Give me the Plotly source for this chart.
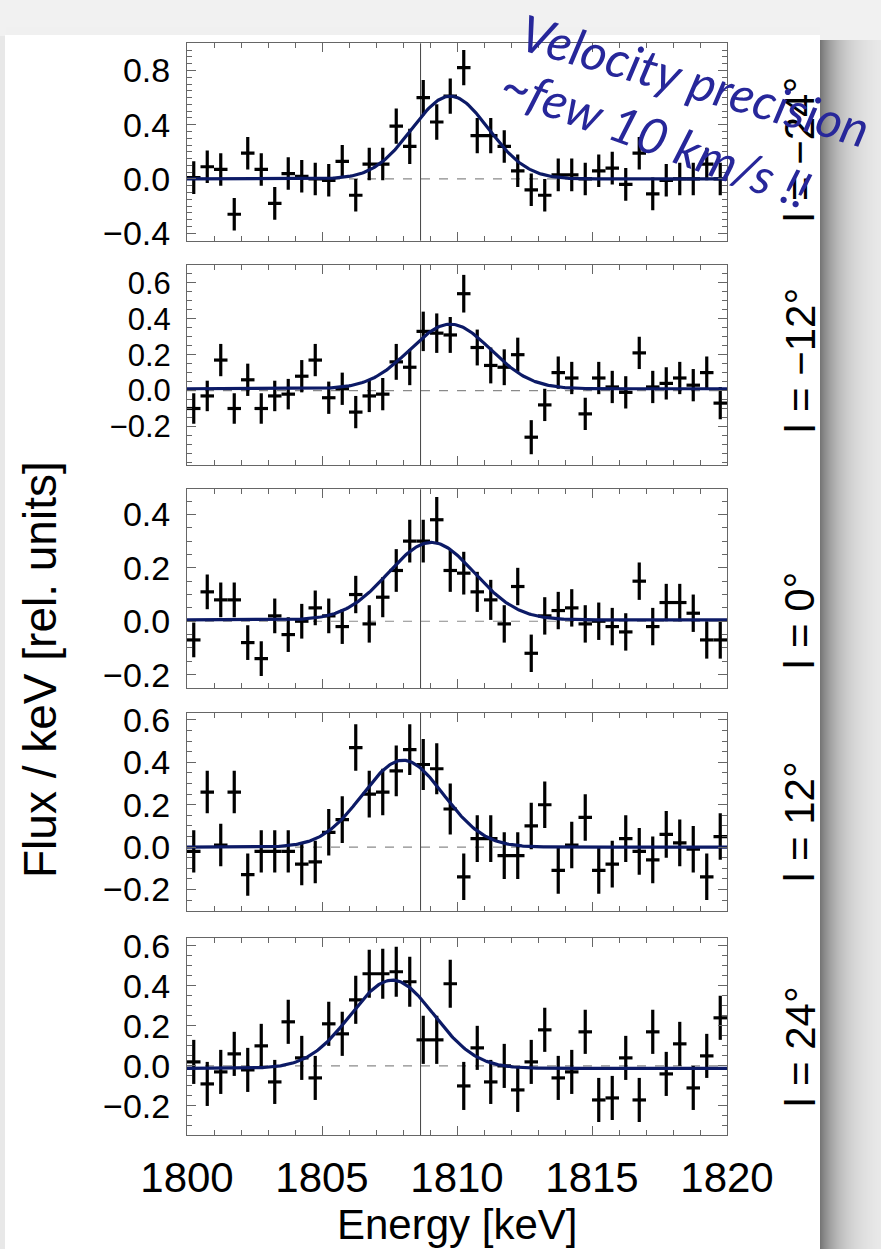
import numpy as np
import plotly.graph_objects as go

W, H = 881, 1249

# ---------------- data ----------------
energy = [1800.25, 1800.75, 1801.25, 1801.75, 1802.25, 1802.75, 1803.25, 1803.75,
          1804.25, 1804.75, 1805.25, 1805.75, 1806.25, 1806.75, 1807.25, 1807.75,
          1808.25, 1808.75, 1809.25, 1809.75, 1810.25, 1810.75, 1811.25, 1811.75,
          1812.25, 1812.75, 1813.25, 1813.75, 1814.25, 1814.75, 1815.25, 1815.75,
          1816.25, 1816.75, 1817.25, 1817.75, 1818.25, 1818.75, 1819.25, 1819.75]
bin_halfwidth = [0.25] * 40

panel_labels = ["l = \u221224\u00b0", "l = \u221212\u00b0", "l = 0\u00b0", "l = 12\u00b0", "l = 24\u00b0"]

flux_m24 = [0.01, 0.09, 0.07, -0.26, 0.19, 0.07, -0.18, 0.04, 0.02, 0.00,
            -0.01, 0.13, -0.12, 0.11, 0.11, 0.39, 0.24, 0.60, 0.42, 0.61,
            0.82, 0.32, 0.32, 0.24, 0.06, -0.08, -0.12, 0.03, 0.03, 0.00,
            0.06, 0.08, -0.04, 0.19, -0.11, -0.01, 0.00, 0.00, 0.11, 0.00]
err_m24 = [0.12, 0.12, 0.12, 0.12, 0.12, 0.12, 0.12, 0.12, 0.12, 0.12,
           0.12, 0.12, 0.12, 0.12, 0.12, 0.13, 0.13, 0.13, 0.13, 0.13,
           0.13, 0.13, 0.13, 0.12, 0.12, 0.12, 0.12, 0.12, 0.12, 0.12,
           0.12, 0.12, 0.12, 0.12, 0.12, 0.12, 0.12, 0.12, 0.12, 0.12]

flux_m12 = [-0.10, -0.03, 0.17, -0.10, 0.06, -0.10, -0.03, -0.02, 0.08, 0.17,
            -0.04, 0.01, -0.12, -0.03, -0.02, 0.16, 0.13, 0.33, 0.32, 0.31,
            0.54, 0.24, 0.14, 0.13, 0.20, -0.26, -0.08, 0.10, 0.07, -0.13,
            0.07, 0.02, -0.01, 0.21, 0.02, 0.04, 0.07, 0.03, 0.10, -0.07]
err_m12 = [0.085, 0.085, 0.09, 0.085, 0.09, 0.085, 0.085, 0.085, 0.09, 0.09,
           0.09, 0.09, 0.09, 0.09, 0.09, 0.10, 0.10, 0.11, 0.11, 0.10,
           0.105, 0.10, 0.10, 0.10, 0.095, 0.095, 0.09, 0.09, 0.09, 0.09,
           0.09, 0.09, 0.09, 0.09, 0.09, 0.09, 0.09, 0.09, 0.09, 0.09]

flux_0 = [-0.07, 0.11, 0.08, 0.08, -0.08, -0.14, 0.02, -0.05, 0.00, 0.05,
          0.02, -0.02, 0.10, -0.01, 0.09, 0.19, 0.30, 0.30, 0.38, 0.19,
          0.18, 0.11, 0.08, -0.01, 0.13, -0.12, 0.02, 0.04, 0.05, -0.01,
          0.00, -0.02, -0.04, 0.15, -0.02, 0.07, 0.07, 0.03, -0.07, -0.07]
err_0 = [0.065, 0.065, 0.065, 0.065, 0.065, 0.065, 0.065, 0.065, 0.065, 0.065,
         0.065, 0.065, 0.07, 0.07, 0.075, 0.08, 0.08, 0.08, 0.085, 0.08,
         0.08, 0.075, 0.075, 0.07, 0.07, 0.07, 0.07, 0.07, 0.07, 0.07,
         0.07, 0.07, 0.07, 0.07, 0.07, 0.07, 0.07, 0.07, 0.07, 0.07]

flux_p12 = [-0.02, 0.26, 0.01, 0.26, -0.13, -0.02, -0.02, -0.02, -0.08, -0.07,
            0.07, 0.13, 0.47, 0.25, 0.26, 0.36, 0.46, 0.39, 0.37, 0.18,
            -0.14, 0.04, 0.04, -0.04, -0.04, 0.10, 0.20, -0.11, 0.01, 0.14,
            -0.11, -0.08, 0.04, -0.02, -0.06, 0.06, 0.02, -0.01, -0.14, 0.05]
err_p12 = [0.10, 0.10, 0.10, 0.10, 0.10, 0.10, 0.10, 0.10, 0.10, 0.10,
           0.11, 0.11, 0.11, 0.11, 0.11, 0.12, 0.12, 0.12, 0.12, 0.12,
           0.11, 0.11, 0.11, 0.11, 0.11, 0.11, 0.11, 0.11, 0.11, 0.11,
           0.11, 0.11, 0.11, 0.11, 0.11, 0.11, 0.11, 0.11, 0.11, 0.11]

flux_p24 = [0.02, -0.09, -0.03, 0.06, -0.02, 0.10, -0.08, 0.22, 0.04, -0.06,
            0.21, 0.16, 0.33, 0.46, 0.46, 0.47, 0.42, 0.13, 0.13, 0.41,
            -0.10, 0.09, -0.08, 0.00, -0.12, 0.02, 0.18, -0.06, -0.03, 0.17,
            -0.17, -0.16, 0.04, -0.17, 0.17, -0.04, 0.11, -0.11, 0.05, 0.24]
err_p24 = [0.11, 0.11, 0.11, 0.11, 0.11, 0.11, 0.11, 0.11, 0.11, 0.11,
           0.11, 0.11, 0.12, 0.12, 0.125, 0.125, 0.125, 0.12, 0.12, 0.12,
           0.12, 0.11, 0.11, 0.11, 0.11, 0.11, 0.11, 0.11, 0.11, 0.11,
           0.11, 0.11, 0.11, 0.11, 0.11, 0.11, 0.11, 0.11, 0.11, 0.11]

# Gaussian line-fit parameters
fit_centre = [1809.75, 1809.75, 1809.05, 1808.00, 1807.60]
fit_amplitude = [0.61, 0.36, 0.29, 0.41, 0.44]
fit_sigma = [1.42, 1.50, 1.60, 1.50, 1.55]
fit_offset = [0.0, 0.01, 0.005, 0.0, -0.012]

rest_energy = 1808.65

y_ranges = [[-0.455, 1.0], [-0.415, 0.70], [-0.25, 0.494], [-0.30, 0.633], [-0.345, 0.64]]
y_tickvals = [[-0.4, 0.0, 0.4, 0.8], [-0.2, 0.0, 0.2, 0.4, 0.6], [-0.2, 0.0, 0.2, 0.4],
              [-0.2, 0.0, 0.2, 0.4, 0.6], [-0.2, 0.0, 0.2, 0.4, 0.6]]
x_tickvals = [1800, 1805, 1810, 1815, 1820]

fluxes = [flux_m24, flux_m12, flux_0, flux_p12, flux_p24]
errors = [err_m24, err_m12, err_0, err_p12, err_p24]

# ---------------- layout geometry (pixels) ----------------
x_left, x_right = 187, 727
panel_px = [(43.3, 240.7), (265, 465), (489.3, 688), (713, 910.7), (937.7, 1135)]
label_centre_px = [150, 361, 621, 822, 1047]
ytick_size = [34, 31, 34, 34, 34]

def fx(px):
    return px / W

def fy(py):
    return 1 - py / H

FONT = "Liberation Sans, Arial, Helvetica, sans-serif"
fit_colour = "#0c1a66"

fig = go.Figure()
layout = dict(
    width=W, height=H,
    margin=dict(l=0, r=0, t=0, b=0),
    paper_bgcolor="#f1f1f1",
    plot_bgcolor="rgba(0,0,0,0)",
    showlegend=False,
    font=dict(family=FONT, size=42, color="black"),
)

xgrid = np.linspace(1800, 1820, 401)
shapes = []

# card + soft drop shadow (decoration)
shapes.append(dict(type="rect", xref="paper", yref="paper", layer="below",
                   x0=fx(0), x1=fx(6), y0=fy(H), y1=fy(36), line=dict(width=0),
                   fillcolor="#e8e8e8"))
for k in range(61):
    t = k / 60.0
    g = int(round(242 - (242 - 118) * np.exp(-t * 2.6)))
    shapes.append(dict(type="rect", xref="paper", yref="paper", layer="below",
                       x0=fx(820 + k), x1=fx(821.2 + k), y0=fy(H), y1=fy(40),
                       line=dict(width=0), fillcolor=f"rgb({g},{g},{g})"))
for k in range(8):
    g = int(round(226 + 2 * k))
    shapes.append(dict(type="rect", xref="paper", yref="paper", layer="below",
                       x0=fx(6), x1=fx(820), y0=fy(35), y1=fy(34 - k),
                       line=dict(width=0), fillcolor=f"rgb({g},{g},{g})"))
shapes.append(dict(type="rect", xref="paper", yref="paper", layer="below",
                   x0=fx(5), x1=fx(820), y0=fy(H), y1=fy(35), line=dict(width=0),
                   fillcolor="white"))

annotations = []
for p in range(5):
    n = p + 1
    xa = "x" if n == 1 else f"x{n}"
    ya = "y" if n == 1 else f"y{n}"
    xkey = "xaxis" if n == 1 else f"xaxis{n}"
    ykey = "yaxis" if n == 1 else f"yaxis{n}"
    top, bot = panel_px[p]

    fig.add_trace(go.Scatter(
        x=energy, y=fluxes[p], xaxis=xa, yaxis=ya, mode="markers",
        marker=dict(size=0.1, color="black", opacity=0),
        error_x=dict(type="data", array=bin_halfwidth, width=0, thickness=3.2, color="black"),
        error_y=dict(type="data", array=errors[p], width=0, thickness=3.2, color="black"),
        hoverinfo="skip"))

    model = fit_offset[p] + fit_amplitude[p] * np.exp(-0.5 * ((xgrid - fit_centre[p]) / fit_sigma[p]) ** 2)
    fig.add_trace(go.Scatter(x=xgrid, y=model, xaxis=xa, yaxis=ya, mode="lines",
                             line=dict(color=fit_colour, width=3.2), hoverinfo="skip"))

    shapes.append(dict(type="line", xref=f"{xa} domain", yref=ya, x0=0, x1=1, y0=0, y1=0,
                       line=dict(color="#8a8a8a", width=1.2, dash="dash"), layer="below"))
    shapes.append(dict(type="line", xref=xa, yref=f"{ya} domain", x0=rest_energy, x1=rest_energy,
                       y0=0, y1=1, line=dict(color="#444444", width=1), layer="below"))

    layout[xkey] = dict(
        domain=[fx(x_left), fx(x_right)], anchor=ya, range=[1800, 1820],
        showline=True, linecolor="#666666", linewidth=1, mirror="allticks",
        ticks="inside", ticklen=9, tickwidth=1, tickcolor="#666666",
        tickmode="array", tickvals=x_tickvals, ticktext=[str(v) for v in x_tickvals],
        minor=dict(ticks="inside", ticklen=5, tickmode="linear", tick0=1800, dtick=1,
                   tickcolor="#666666", tickwidth=1),
        showticklabels=(p == 4), showgrid=False, zeroline=False, automargin=False,
        tickfont=dict(family=FONT, size=42, color="black"), ticklabelstandoff=6,
    )
    layout[ykey] = dict(
        domain=[fy(bot), fy(top)], anchor=xa, range=y_ranges[p],
        showline=True, linecolor="#666666", linewidth=1, mirror="allticks",
        ticks="inside", ticklen=9, tickwidth=1, tickcolor="#666666",
        tickmode="array", tickvals=y_tickvals[p],
        ticktext=[("\u2212" if v < 0 else "") + f"{abs(v):.1f}" for v in y_tickvals[p]],
        minor=dict(ticks="inside", ticklen=5, tickmode="linear", tick0=0, dtick=0.05,
                   tickcolor="#666666", tickwidth=1),
        showgrid=False, zeroline=False, automargin=False,
        tickfont=dict(family=FONT, size=ytick_size[p], color="black"), ticklabelstandoff=9,
    )

    annotations.append(dict(text=panel_labels[p], xref="paper", yref="paper",
                            x=fx(800), y=fy(label_centre_px[p]), xanchor="center", yanchor="middle",
                            textangle=-90, showarrow=False,
                            font=dict(family=FONT, size=42, color="black")))

annotations.append(dict(text="Flux / keV [rel. units]", xref="paper", yref="paper",
                        x=fx(40), y=fy(670), xanchor="center", yanchor="middle",
                        textangle=-90, showarrow=False,
                        font=dict(family=FONT, size=46, color="black")))
annotations.append(dict(text="Energy [keV]", xref="paper", yref="paper",
                        x=fx(457), y=fy(1224), xanchor="center", yanchor="middle",
                        showarrow=False, font=dict(family=FONT, size=42, color="black")))

blue = "#27279a"
annotations.append(dict(text="Velocity precision", xref="paper", yref="paper",
                        x=fx(695), y=fy(80), xanchor="center", yanchor="middle",
                        textangle=16, showarrow=False,
                        font=dict(family="Lato, Open Sans, sans-serif", size=50, color=blue, style="italic")))
annotations.append(dict(text="~few 10 km/s !!", xref="paper", yref="paper",
                        x=fx(656), y=fy(136), xanchor="center", yanchor="middle",
                        textangle=20, showarrow=False,
                        font=dict(family="Lato, Open Sans, sans-serif", size=50, color=blue, style="italic")))

layout["shapes"] = shapes
layout["annotations"] = annotations
fig.update_layout(**layout)
fig.write_html("out.html")
